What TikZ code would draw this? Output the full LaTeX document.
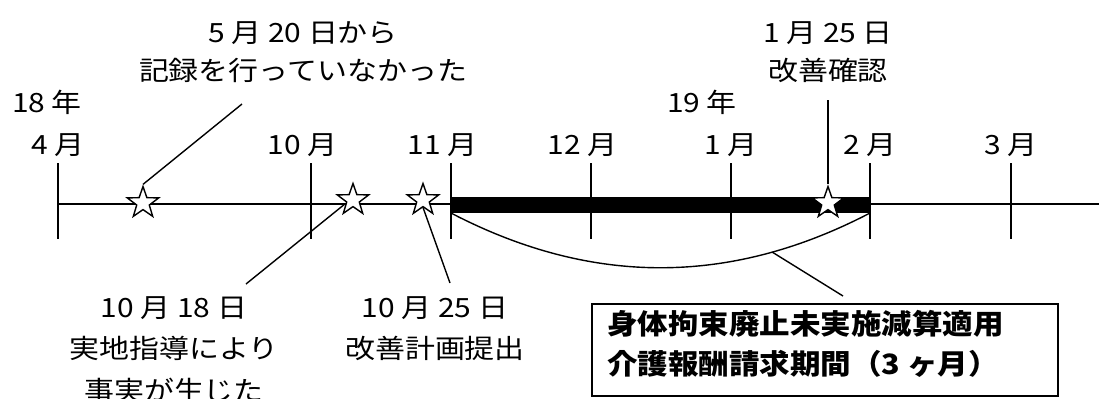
\documentclass[tikz,border=0pt]{standalone}
\usepackage{fontspec}
\newfontfamily\jp[FakeStretch=1.13]{Noto Sans CJK JP}
\newfontfamily\jpb[FakeStretch=1.09]{Noto Sans CJK JP}
\usetikzlibrary{shapes.geometric}
\begin{document}
\begin{tikzpicture}[x=1bp,y=-1bp,
  lbl/.style={inner sep=0pt, font=\jp\fontsize{26.5bp}{38.5bp}\selectfont, align=center},
  lbllow/.style={lbl, font=\jp\fontsize{26.5bp}{41.5bp}\selectfont},
  boxtext/.style={inner sep=0pt, font=\jpb\bfseries\fontsize{28bp}{40bp}\selectfont, align=left},
  thin/.style={line width=1.4bp},
  starmark/.style={star, star points=5, star point ratio=2.5, minimum size=33bp, inner sep=0pt, draw, fill=white, line width=1.4bp},
]
\useasboundingbox (0,0) rectangle (1099,398);

% timeline
\draw[thin] (58,204) -- (1099,204);
\fill (451,197) rectangle (870,213);
\foreach \x/\m/\n in {58/4/m4, 311/10/m10, 451/11/m11, 591/12/m12, 731/1/m1, 870/2/m2, 1011/3/m3}{
  \draw[thin] (\x,163) -- (\x,239);
  \node[lbl, anchor=north east] (\n) at (\x+27,133) {\m{} 月};
}

% year labels
\node[lbl, anchor=north] (y18) at (47,90) {18 年};
\node[lbl, anchor=north] (y19) at (702,90) {19 年};

% arc under the period
\draw[thin] (451,213) .. controls (591,286) and (730,286) .. (870,213) coordinate[pos=0.767] (arcpt);

% stars
\node[starmark] (s1) at (143,203) {};
\node[starmark] (s2) at (353,200) {};
\node[starmark] (s3) at (423,200) {};
\node[starmark] (s4) at (828,203) {};

% labels
\node[lbl, anchor=north] (L1) at (303,21) {5 月 20 日から\\記録を行っていなかった};
\node[lbl, anchor=north] (L2) at (828,21) {1 月 25 日\\改善確認};
\node[lbllow, anchor=north] (L3) at (174,296) {10 月 18 日\\実地指導により\\事実が生じた};
\node[lbllow, anchor=north] (L4) at (435,296) {10 月 25 日\\改善計画提出};

% box
\node[draw, line width=2bp, anchor=north west, minimum width=466bp, minimum height=92bp, inner sep=0pt] (box) at (591,303) {};
\node[boxtext, anchor=north west] (boxtxt) at (607,310) {身体拘束廃止未実施減算適用\\介護報酬請求期間（3 ヶ月）};

% leader lines
\coordinate (c1) at (242,104);
\coordinate (c2) at (246,284);
\coordinate (c3) at (450,283);
\coordinate (c4) at (828,100);
\coordinate (c5) at (843,296);
\draw[thin] (c1) -- (s1.north);
\draw[thin] (c2) -- (s2.205);
\draw[thin] (c3) -- (s3.south);
\draw[thin] (c4) -- (s4.north);
\draw[thin] (arcpt) -- (c5);
\end{tikzpicture}
\end{document}
